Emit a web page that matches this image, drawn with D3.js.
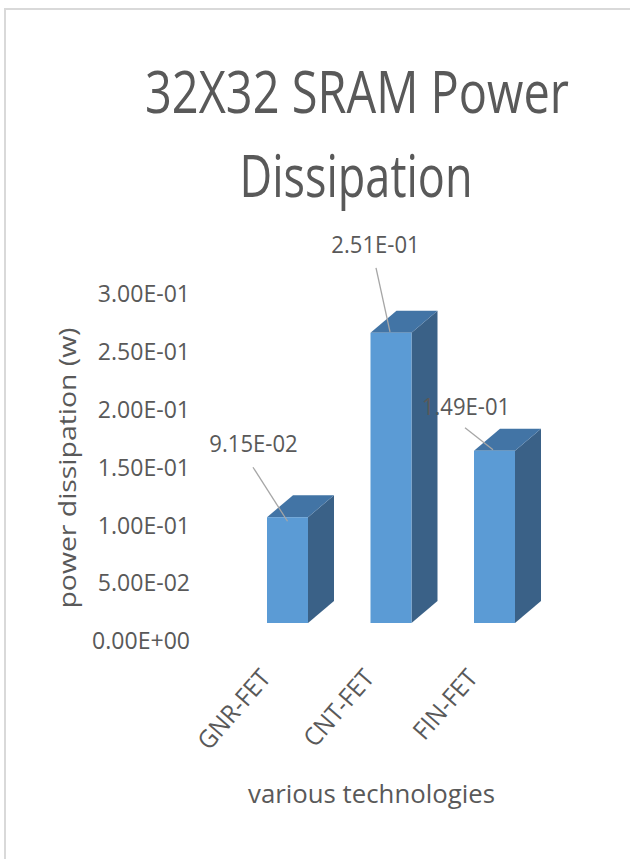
<!DOCTYPE html>
<html>
<head>
<meta charset="utf-8">
<script src="https://cdn.jsdelivr.net/npm/d3@7"></script>
<style>
  body { margin: 0; background: #fff; }
  text { font-family: "Open Sans", sans-serif; fill: #595959; }
</style>
</head>
<body>
<script>
var categories = ["GNR-FET", "CNT-FET", "FIN-FET"];
var powerValues = [0.0915, 0.251, 0.149];
var tickValues = [0, 0.05, 0.10, 0.15, 0.20, 0.25, 0.30];
var titleLines = ["32X32 SRAM Power", "Dissipation"];
var yTitleText = "power dissipation (w)";
var xTitleText = "various technologies";

main();

function main() {
  setupCanvasSize();
  appendSvg("body");
  setupXScale();
  setupYScale();
  drawFrame();
  addTitle();
  appendYAxis();
  drawBars();
  addDataLabels();
  appendXAxis();
  addAxisTitles();
}

function setupCanvasSize() {
  width = 630;
  height = 859;
  barWidth = 41;
  depthX = 26;
  depthY = -22;
}

function appendSvg(domElement) {
  svg = d3.select(domElement).append("svg")
    .attr("width", width)
    .attr("height", height);
}

function setupXScale() {
  x = d3.scalePoint()
    .domain(categories)
    .range([287.5, 494.5]);
}

function setupYScale() {
  y = d3.scaleLinear()
    .domain([0, 0.3])
    .range([623, 276.2]);
}

// Excel style scientific label, e.g. 2.51E-01
function fmtE(v) {
  if (v === 0) return "0.00E+00";
  var e = Math.floor(Math.log10(v));
  var m = v / Math.pow(10, e);
  if (+m.toFixed(2) >= 10) { e += 1; m = v / Math.pow(10, e); }
  var s = e < 0 ? "-" : "+";
  var a = Math.abs(e);
  return m.toFixed(2) + "E" + s + (a < 10 ? "0" + a : a);
}

// stretch / squeeze text to a given width (the source font is narrower)
function fit(sel, w) {
  sel.attr("textLength", w).attr("lengthAdjust", "spacingAndGlyphs");
}
function squeeze(sel, k) {
  sel.each(function () {
    var w = this.getComputedTextLength();
    d3.select(this).attr("textLength", w * k).attr("lengthAdjust", "spacingAndGlyphs");
  });
}

function drawFrame() {
  svg.append("rect")
    .attr("x", 5)
    .attr("y", 9)
    .attr("width", 700)
    .attr("height", 900)
    .attr("fill", "none")
    .attr("stroke", "#d9d9d9")
    .attr("stroke-width", 2);
}

// the source picture is stretched vertically, so the title is scaled in y
function addTitle() {
  var t1 = svg.append("g").attr("transform", "translate(357, 113) scale(1, 1.2)");
  t1.append("text")
    .attr("text-anchor", "middle")
    .style("font-size", "48px")
    .text(titleLines[0])
    .call(fit, 424);
  var t2 = svg.append("g").attr("transform", "translate(356, 197) scale(1, 1.2)");
  t2.append("text")
    .attr("text-anchor", "middle")
    .style("font-size", "48px")
    .text(titleLines[1])
    .call(fit, 233);
}

function appendYAxis() {
  var g = svg.append("g")
    .attr("transform", "translate(190, 17)")
    .call(d3.axisLeft(y).tickValues(tickValues).tickFormat(fmtE).tickSize(0).tickPadding(0));
  g.select(".domain").remove();
  g.selectAll("text")
    .style("font-size", "24px")
    .attr("dy", "0.36em")
    .call(squeeze, 0.96);
}

function drawBars() {
  var bars = svg.selectAll(".bar")
    .data(powerValues)
    .enter()
    .append("g")
    .attr("class", "bar");

  // right side face
  bars.append("path")
    .attr("fill", "#3a6187")
    .attr("d", function (d, i) {
      var x1 = x(categories[i]) + barWidth / 2, yt = y(d), yb = y(0);
      return "M" + x1 + "," + yt + "L" + (x1 + depthX) + "," + (yt + depthY) +
        "L" + (x1 + depthX) + "," + (yb + depthY) + "L" + x1 + "," + yb + "Z";
    });
  // top face
  bars.append("path")
    .attr("fill", "#4274a5")
    .attr("d", function (d, i) {
      var x0 = x(categories[i]) - barWidth / 2, x1 = x0 + barWidth, yt = y(d);
      return "M" + x0 + "," + yt + "L" + (x0 + depthX) + "," + (yt + depthY) +
        "L" + (x1 + depthX) + "," + (yt + depthY) + "L" + x1 + "," + yt + "Z";
    });
  // front face
  bars.append("rect")
    .attr("fill", "#5b9bd5")
    .attr("x", function (d, i) { return x(categories[i]) - barWidth / 2; })
    .attr("y", function (d) { return y(d); })
    .attr("width", barWidth)
    .attr("height", function (d) { return y(0) - y(d); });
}

function addDataLabels() {
  // label nudges relative to front top centre (dragged by hand in the source)
  var nudge = [
    { lx: -34, ly: -65, sx: -34.5, sy: -50, ex: 0, ey: 4 },
    { lx: -15.5, ly: -80, sx: -15, sy: -65, ex: -1, ey: -1 },
    { lx: -28.5, ly: -36, sx: -29.5, sy: -23, ex: -1.5, ey: -1 }
  ];
  var lab = svg.selectAll(".dlabel")
    .data(powerValues)
    .enter()
    .append("g")
    .attr("class", "dlabel")
    .attr("transform", function (d, i) { return "translate(" + x(categories[i]) + "," + y(d) + ")"; });

  lab.append("line")
    .attr("x1", function (d, i) { return nudge[i].sx; })
    .attr("y1", function (d, i) { return nudge[i].sy; })
    .attr("x2", function (d, i) { return nudge[i].ex; })
    .attr("y2", function (d, i) { return nudge[i].ey; })
    .attr("stroke", "#a6a6a6")
    .attr("stroke-width", 1.3);

  lab.append("text")
    .attr("x", function (d, i) { return nudge[i].lx; })
    .attr("y", function (d, i) { return nudge[i].ly; })
    .attr("text-anchor", "middle")
    .style("font-size", "24px")
    .text(fmtE)
    .call(squeeze, 0.92);
}

function appendXAxis() {
  var g = svg.append("g")
    .attr("transform", "translate(0, 679)")
    .call(d3.axisBottom(x).tickSize(0).tickPadding(0));
  g.select(".domain").remove();
  g.selectAll("text")
    .style("font-size", "25px")
    .attr("y", 0)
    .attr("dy", 0)
    .attr("text-anchor", "end")
    .attr("transform", "translate(-16,0) rotate(-49)")
    .call(squeeze, 0.95);
}

function addAxisTitles() {
  svg.append("text")
    .attr("transform", "translate(76, 468) rotate(-90)")
    .attr("text-anchor", "middle")
    .style("font-size", "24px")
    .text(yTitleText)
    .call(fit, 281);

  svg.append("text")
    .attr("x", 371.5)
    .attr("y", 803)
    .attr("text-anchor", "middle")
    .style("font-size", "26px")
    .text(xTitleText)
    .call(fit, 247);
}
</script>
</body>
</html>
